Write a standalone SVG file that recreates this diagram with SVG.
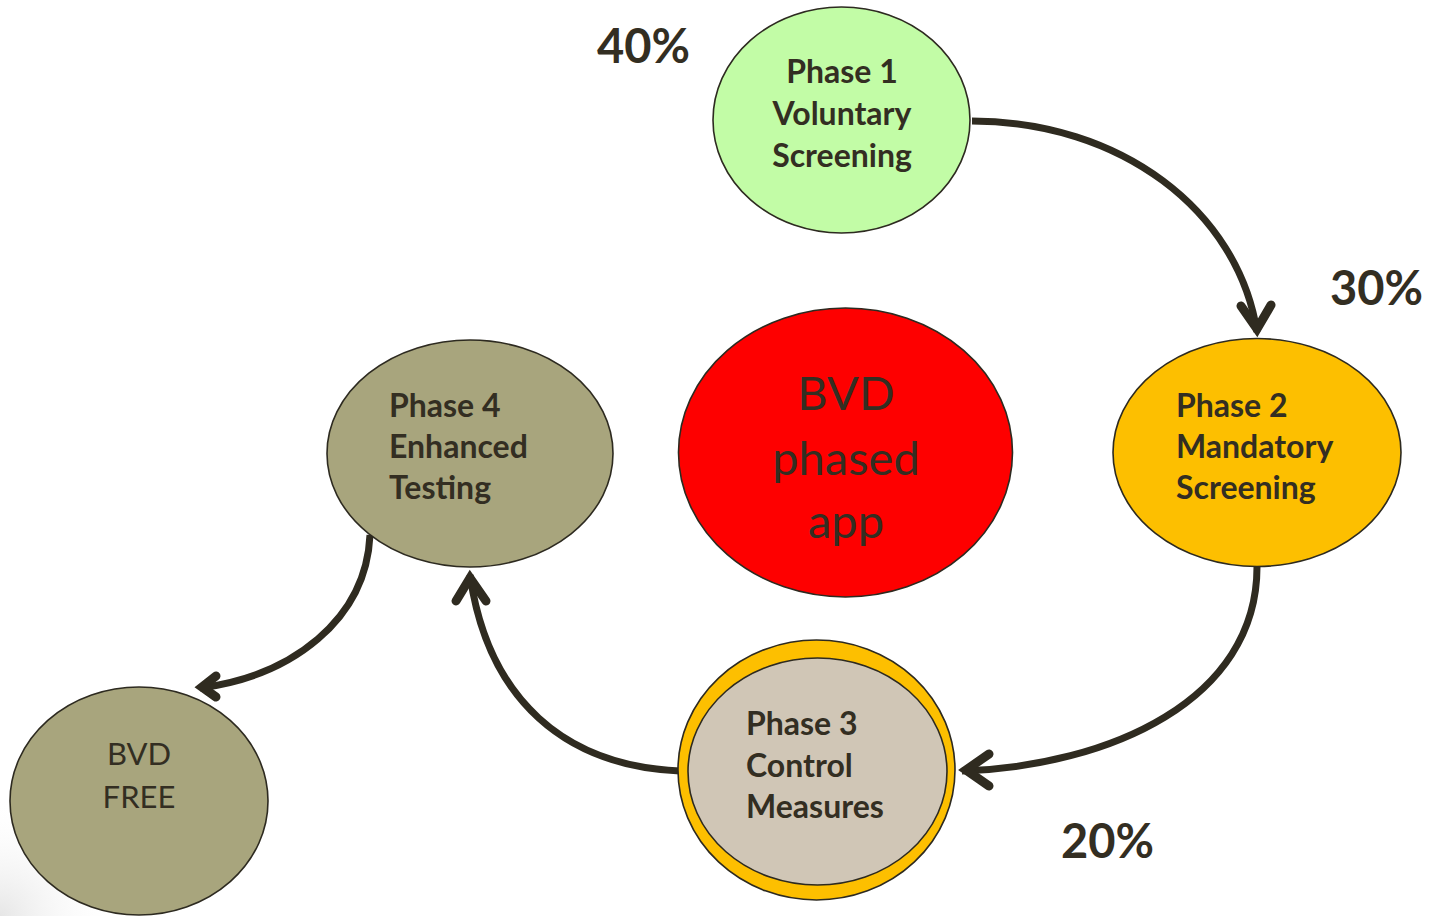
<svg xmlns="http://www.w3.org/2000/svg" width="1432" height="916" viewBox="0 0 1432 916">
<defs>
<radialGradient id="shade" cx="0" cy="916" r="120" gradientUnits="userSpaceOnUse">
<stop offset="0" stop-color="#e6e6e6"/>
<stop offset="1" stop-color="#ffffff" stop-opacity="0"/>
</radialGradient>
<style>
.node{stroke:#2d2a20;stroke-width:1.6}
.lbl{font-family:Lato,"Open Sans",sans-serif;font-weight:bold;font-size:32px;fill:#332e22}
.reg{font-family:Lato,"Open Sans",sans-serif;font-weight:normal;fill:#332e22}
.pct{font-family:Lato,"Open Sans",sans-serif;font-weight:bold;font-size:47px;fill:#332e22}
.conn{fill:none;stroke:#2f2b20;stroke-width:7}
.head{fill:none;stroke:#2f2b20;stroke-width:9;stroke-linecap:round;stroke-linejoin:miter;stroke-miterlimit:10}
</style>
</defs>
<rect width="1432" height="916" fill="#ffffff"/>
<rect x="0" y="780" width="140" height="136" fill="url(#shade)"/>

<g id="connectors">
<path class="conn" d="M972,121 C1120,121 1238,210 1257,332"/>
<polyline class="head" points="1241,306 1257,329 1271,305"/>
<path class="conn" d="M1257,567 C1257,700 1110,766 962,771"/>
<polyline class="head" points="989,754 966,770 989,786"/>
<path class="conn" d="M680,771 C565,766 488,700 470,575"/>
<polyline class="head" points="456,601 470,578 486,601"/>
<path class="conn" d="M370,535 C366,620 292,676 200,688"/>
<polyline class="head" points="216,676 202,687 216,697"/>
</g>

<g id="phase1">
<ellipse class="node" cx="841.5" cy="120" rx="128.5" ry="113" fill="#c2fca6"/>
<text class="lbl" text-anchor="middle"><tspan x="842" y="83">Phase 1</tspan><tspan x="842" y="125">Voluntary</tspan><tspan x="842" y="167">Screening</tspan></text>
</g>

<g id="phase2">
<ellipse class="node" cx="1257" cy="452.5" rx="144" ry="114" fill="#fdbf00"/>
<text class="lbl"><tspan x="1176" y="417">Phase 2</tspan><tspan x="1176" y="458">Mandatory</tspan><tspan x="1176" y="499">Screening</tspan></text>
</g>

<g id="phase3">
<ellipse class="node" cx="816.5" cy="770" rx="138.5" ry="130" fill="#fdbf00"/>
<ellipse class="node" cx="817.5" cy="771.5" rx="129.5" ry="113.5" fill="#d0c6b6"/>
<text class="lbl"><tspan x="746" y="735">Phase 3</tspan><tspan x="746" y="777">Control</tspan><tspan x="746" y="818">Measures</tspan></text>
</g>

<g id="phase4">
<ellipse class="node" cx="470" cy="453.5" rx="143" ry="113.5" fill="#a8a57d"/>
<text class="lbl"><tspan x="389" y="417">Phase 4</tspan><tspan x="389" y="458">Enhanced</tspan><tspan x="389" y="499">Testing</tspan></text>
</g>

<g id="center">
<ellipse class="node" cx="845.5" cy="452.5" rx="167" ry="144.5" fill="#fe0000"/>
<text class="reg" font-size="47" text-anchor="middle"><tspan x="846" y="410">BVD</tspan><tspan x="846" y="475">phased</tspan><tspan x="846" y="538">app</tspan></text>
</g>

<g id="bvdfree">
<ellipse class="node" cx="139" cy="801" rx="129" ry="114" fill="#a8a57d"/>
<text class="reg" font-size="31" text-anchor="middle"><tspan x="139" y="765">BVD</tspan><tspan x="139" y="808">FREE</tspan></text>
</g>

<g id="percentages">
<text class="pct" x="597" y="63">40%</text>
<text class="pct" x="1330" y="305">30%</text>
<text class="pct" x="1061" y="858">20%</text>
</g>
</svg>
